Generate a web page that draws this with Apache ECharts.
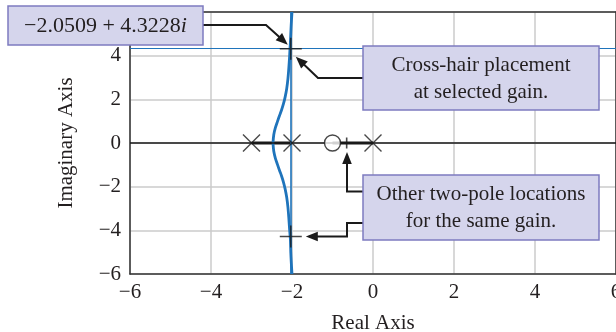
<!DOCTYPE html>
<html>
<head>
<meta charset="utf-8">
<script src="https://cdn.jsdelivr.net/npm/echarts@6/dist/echarts.min.js"></script>
<style>
html,body{margin:0;padding:0;background:#fff;}
#main{width:616px;height:332px;}
</style>
</head>
<body>
<div id="main"></div>
<script>
// ---- data ----
const xTickRange = [-6, 6];
const yTickRange = [-6, 6];
const tickStep = 2;
const upperBranch = [[-2.00,6.0],[-2.02,5.4],[-2.03,5.0],[-2.04,4.6],[-2.05,4.3],[-2.06,3.95],[-2.08,3.4],[-2.10,2.95],[-2.13,2.5],[-2.17,2.1],[-2.21,1.8],[-2.26,1.5],[-2.31,1.25],[-2.36,0.98],[-2.41,0.7],[-2.45,0.38],[-2.47,0.0]];
const lowerBranch = [[-2.47,0.0],[-2.45,-0.38],[-2.41,-0.7],[-2.36,-0.98],[-2.31,-1.25],[-2.26,-1.5],[-2.21,-1.8],[-2.17,-2.1],[-2.13,-2.5],[-2.10,-2.95],[-2.08,-3.4],[-2.06,-3.95],[-2.04,-4.4],[-2.03,-5.0],[-2.02,-5.4],[-2.00,-6.0]];
const realSegmentA = [[-3,0],[-2,0]];
const realSegmentB = [[-1,0],[0,0]];
const openLoopPoles = [[-3,0],[-2,0],[0,0]];
const openLoopZeros = [[-1,0]];
const crosshair = [-2.03, 4.32];
const otherPoleComplex = [[-2.03,-4.28]];
const otherPoleReal = [[-0.65,0]];
const labelCrosshair = '−2.0509 + 4.3228';
const labelCrosshairImag = 'i';
const labelBox2 = 'Cross-hair placement\nat selected gain.';
const labelBox3 = 'Other two-pole locations\nfor the same gain.';
const xAxisName = 'Real Axis';
const yAxisName = 'Imaginary Axis';

// ---- styles ----
const SERIF = '"Liberation Serif", "Times New Roman", serif';
const TXT = '#231f20';
const AX = '#333333';
const BLUE = '#1f74bb';
const FS = 21;
const fmt = v => (v < 0 ? '−' + Math.abs(v) : String(v));

const chart = echarts.init(document.getElementById('main'), null, {renderer:'canvas'});

const axisCommon = {
  type:'value', interval: tickStep,
  axisTick:{show:false},
  axisLine:{show:true, onZero:false, lineStyle:{color:AX, width:1.5}},
  splitLine:{show:true, lineStyle:{color:'#cbcbcb', width:1.5}},
  axisLabel:{color:TXT, fontFamily:SERIF, fontSize:FS, formatter:fmt}
};

const option = {
  animation:false,
  backgroundColor:'#ffffff',
  grid:{left:130, right:0, top:12, bottom:58, containLabel:false, outerBoundsMode:'none'},
  xAxis:[
    Object.assign({}, axisCommon, {
      min:xTickRange[0], max:xTickRange[1], position:'bottom',
      axisLabel:Object.assign({}, axisCommon.axisLabel, {margin:8, showMinLabel:true, showMaxLabel:true}),
      name:xAxisName, nameLocation:'middle', nameGap:39,
      nameTextStyle:{color:TXT, fontFamily:SERIF, fontSize:FS}
    }),
    {type:'value', min:xTickRange[0], max:xTickRange[1], position:'top',
     axisLine:{show:true, onZero:false, lineStyle:{color:AX, width:1.5}},
     axisTick:{show:false}, axisLabel:{show:false}, splitLine:{show:false}}
  ],
  yAxis:[
    Object.assign({}, axisCommon, {
      min:yTickRange[0], max:yTickRange[1], position:'left',
      axisLabel:Object.assign({}, axisCommon.axisLabel, {margin:9, showMinLabel:true, showMaxLabel:false}),
      name:yAxisName, nameLocation:'middle', nameGap:53, nameRotate:90,
      nameTextStyle:{color:TXT, fontFamily:SERIF, fontSize:FS}
    }),
    {type:'value', min:yTickRange[0], max:yTickRange[1], position:'right',
     axisLine:{show:true, onZero:false, lineStyle:{color:AX, width:1.5}},
     axisTick:{show:false}, axisLabel:{show:false}, splitLine:{show:false}}
  ],
  series:[
    { // real axis line + crosshair lines
      type:'line', data:[], silent:true,
      markLine:{symbol:'none', silent:true, label:{show:false}, animation:false,
        data:[
          {yAxis:0, lineStyle:{color:'#1a1a1a', width:1.6, type:'solid'}},
          {xAxis:crosshair[0], lineStyle:{color:BLUE, width:1.6, type:'solid'}},
          {yAxis:crosshair[1], lineStyle:{color:BLUE, width:1.2, type:'solid'}}
        ]}
    },
    {type:'line', data:realSegmentA, showSymbol:false, lineStyle:{color:'#1a1a1a', width:3}, z:3},
    {type:'line', data:realSegmentB, showSymbol:false, lineStyle:{color:'#1a1a1a', width:3}, z:3},
    {type:'line', data:upperBranch, smooth:0.3, showSymbol:false, lineStyle:{color:BLUE, width:2.8}, z:4},
    {type:'line', data:lowerBranch, smooth:0.3, showSymbol:false, lineStyle:{color:BLUE, width:2.8}, z:4},
    {type:'scatter', data:openLoopPoles, symbol:'path://M0 0L10 10M10 0L0 10', symbolSize:17,
     itemStyle:{color:'none', borderColor:'#1a1a1a', borderWidth:1.4}, z:6},
    {type:'scatter', data:openLoopZeros, symbol:'circle', symbolSize:16,
     itemStyle:{color:'#ffffff', borderColor:'#1a1a1a', borderWidth:1.4}, z:6},
    {type:'scatter', data:[crosshair].concat(otherPoleComplex), symbol:'path://M0 10L20 10M10 0L10 20', symbolSize:22,
     itemStyle:{color:'none', borderColor:'#1a1a1a', borderWidth:1.6}, z:7},
    {type:'scatter', data:otherPoleReal, symbol:'rect', symbolSize:[1.6, 11],
     itemStyle:{color:'#1a1a1a'}, z:7}
  ]
};
chart.setOption(option);

// ---- annotations ----
const px = p => chart.convertToPixel({xAxisIndex:0, yAxisIndex:0}, p);
const cP = px(crosshair), lP = px(otherPoleComplex[0]), rP = px(otherPoleReal[0]);

function arrow(points, tip) {
  const a = points[points.length - 1];
  const dx = tip[0] - a[0], dy = tip[1] - a[1];
  const L = Math.hypot(dx, dy), ux = dx / L, uy = dy / L;
  const hl = 12, hw = 4.8;
  const base = [tip[0] - ux * hl, tip[1] - uy * hl];
  const head = [tip, [base[0] - uy * hw, base[1] + ux * hw], [base[0] + uy * hw, base[1] - ux * hw]];
  const pts = points.concat([[tip[0] - ux * hl * 0.7, tip[1] - uy * hl * 0.7]]);
  return [
    {type:'polyline', shape:{points:pts}, style:{stroke:'#1a1a1a', lineWidth:2, fill:null}, z:100},
    {type:'polygon', shape:{points:head}, style:{fill:'#1a1a1a'}, z:100}
  ];
}
function box(x, y, w, h) {
  return {type:'rect', shape:{x:x, y:y, width:w, height:h},
    style:{fill:'#d5d5ec', stroke:'#7d7bc0', lineWidth:1.5}, z:101};
}
function label(x, y, text, rich, lh, fs) {
  return {type:'text', x:x, y:y, z:102,
    style:{text:text, fill:TXT, fontFamily:SERIF, fontSize:fs || FS, lineHeight:lh || 27,
      align:'center', verticalAlign:'middle', rich:rich || {}}};
}

const g = [];
g.push(...arrow([[203, 25], [266, 25]], [cP[0] - 3, cP[1] - 4]));
g.push(...arrow([[363, 78], [318, 78]], [cP[0] + 5, cP[1] + 8]));
g.push(...arrow([[363, 191.5], [347, 191.5]], [347, rP[1] + 9]));
g.push(...arrow([[363, 223], [347, 223], [347, lP[1]]], [lP[0] + 15, lP[1]]));
g.push(box(8, 6, 195, 39));
g.push(label(105.5, 26, labelCrosshair + '{i|' + labelCrosshairImag + '}',
  {i:{fontStyle:'italic', fontFamily:SERIF, fontSize:22, fill:TXT}}, 24, 22));
g.push(box(363, 46, 236, 64));
g.push(label(481, 79, labelBox2, null, 27));
g.push(box(363, 175, 236, 65));
g.push(label(481, 208, labelBox3, null, 27));

chart.setOption({graphic:{elements:g}});
</script>
</body>
</html>
